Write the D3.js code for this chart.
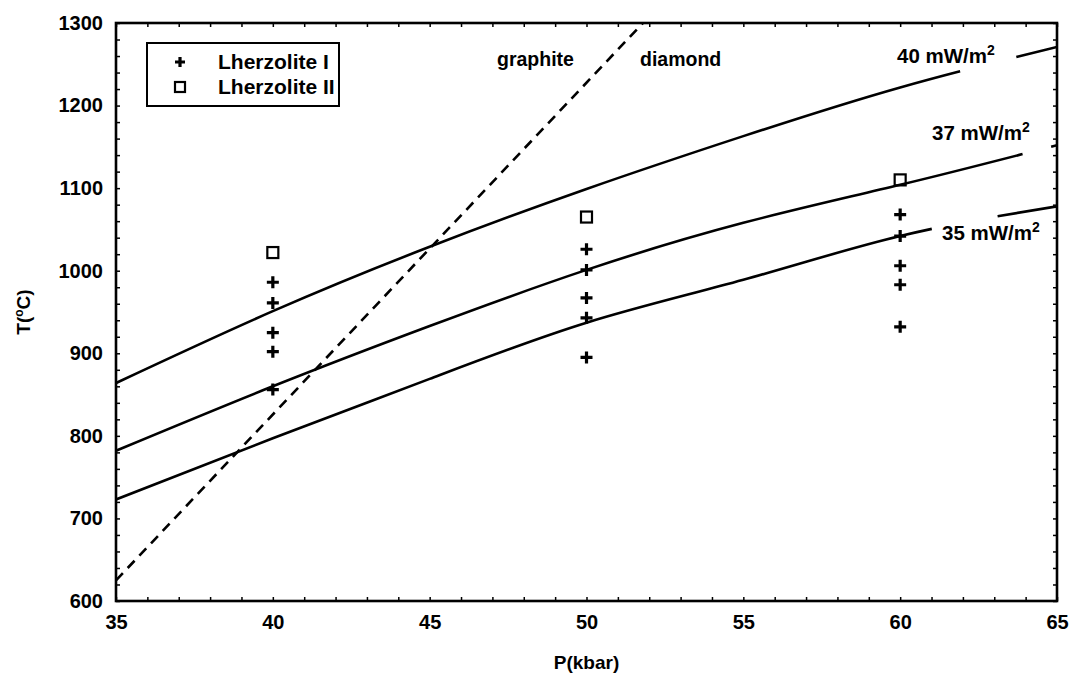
<!DOCTYPE html>
<html>
<head>
<meta charset="utf-8">
<script src="https://cdn.jsdelivr.net/npm/d3@7"></script>
<style>
  body { margin: 0; background: #fff; }
  text { font-family: "Liberation Sans", Arial, sans-serif; font-weight: bold; fill: #000; }
</style>
</head>
<body>
<div id="chart"></div>
<script>
// data
var pressures = [35, 40, 45, 50, 55, 60, 65];
var geo40 = [864, 951, 1029, 1099, 1163, 1222, 1271];
var geo37 = [782, 860, 933, 1001, 1058, 1104, 1152];
var geo35 = [723, 797, 869, 937, 989, 1042, 1078];
var geoLabels = ["40", "37", "35"];
// where each geotherm is broken for its label (kbar)
var geoGaps = [[61.9, 63.7], [63.9, 64.8], [61.0, 63.1]];

// graphite / diamond boundary
var gdP = [35, 51.8];
var gdT = [625, 1300];

var lherz1P = [40, 40, 40, 40, 40, 50, 50, 50, 50, 50, 60, 60, 60, 60, 60];
var lherz1T = [986, 961, 925, 902, 856, 1026, 1001, 967, 943, 895, 1068, 1042, 1006, 983, 932];
var lherz2P = [40, 50, 60];
var lherz2T = [1022, 1065, 1110];

var xTicks = [35, 40, 45, 50, 55, 60, 65];
var yTicks = [600, 700, 800, 900, 1000, 1100, 1200, 1300];

var margin = {top: 23, right: 17, bottom: 72, left: 116},
  width = 1074 - margin.left - margin.right,
  height = 673 - margin.top - margin.bottom;

var x = d3.scaleLinear().domain([35, 65]).range([0, width]);
var y = d3.scaleLinear().domain([600, 1300]).range([height, 0]);

var svg = d3.select("#chart").append("svg")
  .attr("width", 1074)
  .attr("height", 673)
  .append("g")
  .attr("transform", "translate(" + margin.left + "," + margin.top + ")");

// minor ticks on all four sides, pointing inward
var xMinor = d3.range(35, 65.01, 1);
var yMinor = d3.range(600, 1300.01, 20);

svg.append("g")
  .attr("transform", "translate(0," + height + ")")
  .call(d3.axisBottom(x).tickValues(xMinor).tickSize(-4).tickFormat(""))
  .call(function(g) { g.select(".domain").remove(); });
svg.append("g")
  .call(d3.axisTop(x).tickValues(xMinor).tickSize(-4).tickFormat(""))
  .call(function(g) { g.select(".domain").remove(); });
svg.append("g")
  .call(d3.axisLeft(y).tickValues(yMinor).tickSize(-4).tickFormat(""))
  .call(function(g) { g.select(".domain").remove(); });
svg.append("g")
  .attr("transform", "translate(" + width + ",0)")
  .call(d3.axisRight(y).tickValues(yMinor).tickSize(-4).tickFormat(""))
  .call(function(g) { g.select(".domain").remove(); });
svg.selectAll(".tick line").attr("stroke", "#000").attr("stroke-width", 1.5);

// labelled axes
svg.append("g")
  .attr("transform", "translate(0," + height + ")")
  .call(d3.axisBottom(x).tickValues(xTicks).tickSize(0).tickPadding(14).tickFormat(d3.format("d")))
  .call(function(g) {
    g.select(".domain").remove();
    g.selectAll("text").attr("font-size", 20);
  });
svg.append("g")
  .call(d3.axisLeft(y).tickValues(yTicks).tickSize(0).tickPadding(13).tickFormat(d3.format("d")))
  .call(function(g) {
    g.select(".domain").remove();
    g.selectAll("text").attr("font-size", 20);
  });

svg.append("text")
  .attr("x", width / 2)
  .attr("y", height + 68)
  .attr("text-anchor", "middle")
  .attr("font-size", 19)
  .text("P(kbar)");

var yl = svg.append("text")
  .attr("transform", "translate(" + (-86) + "," + (height / 2) + ") rotate(-90)")
  .attr("text-anchor", "middle")
  .attr("font-size", 19);
yl.append("tspan").text("T(");
yl.append("tspan").attr("font-size", 12).attr("dy", -7).text("o");
yl.append("tspan").attr("dy", 7).text("C)");

// clip to plot area
svg.append("clipPath").attr("id", "plot")
  .append("rect").attr("width", width).attr("height", height);

var line = d3.line()
  .x(function(d) { return x(d[0]); })
  .y(function(d) { return y(d[1]); })
  .curve(d3.curveNatural);

var geos = [geo40, geo37, geo35];
geos.forEach(function(vals, i) {
  var pts = pressures.map(function(p, j) { return [p, vals[j]]; });
  var path = svg.append("path")
    .datum(pts)
    .attr("clip-path", "url(#plot)")
    .attr("fill", "none")
    .attr("stroke", "#000")
    .attr("stroke-width", 2.6)
    .attr("d", line);

  // break the line where the label sits
  var node = path.node(), total = node.getTotalLength();
  function lenAt(px) {
    var l = 0;
    while (l < total && node.getPointAtLength(l).x < px) l += 0.5;
    return l;
  }
  var a = lenAt(x(geoGaps[i][0])), b = lenAt(x(geoGaps[i][1]));
  path.attr("stroke-dasharray", a + "," + (b - a) + "," + total);
});

// graphite-diamond dashed line
svg.append("path")
  .datum(gdP.map(function(p, j) { return [p, gdT[j]]; }))
  .attr("clip-path", "url(#plot)")
  .attr("fill", "none")
  .attr("stroke", "#000")
  .attr("stroke-width", 2.6)
  .attr("stroke-dasharray", "10,7")
  .attr("d", d3.line().x(function(d) { return x(d[0]); }).y(function(d) { return y(d[1]); }));

// geotherm labels
var labelPos = [[897, 63], [932, 140], [942, 240]];
geoLabels.forEach(function(l, i) {
  var t = svg.append("text")
    .attr("x", labelPos[i][0] - margin.left)
    .attr("y", labelPos[i][1] - margin.top)
    .attr("font-size", 20.5);
  t.append("tspan").text(l + " mW/m");
  t.append("tspan").attr("font-size", 14).attr("dy", -8).text("2");
});

svg.append("text")
  .attr("x", 497 - margin.left).attr("y", 66 - margin.top)
  .attr("font-size", 19.5).text("graphite");
svg.append("text")
  .attr("x", 640 - margin.left).attr("y", 66 - margin.top)
  .attr("font-size", 19.5).text("diamond");

// markers
function plus(sel, s) {
  sel.append("path")
    .attr("d", "M" + (-s) + ",0H" + s + "M0," + (-s) + "V" + s)
    .attr("stroke", "#000")
    .attr("stroke-width", 3.2)
    .attr("fill", "none");
}
function square(sel, s) {
  sel.append("rect")
    .attr("x", -s).attr("y", -s)
    .attr("width", 2 * s).attr("height", 2 * s)
    .attr("fill", "none")
    .attr("stroke", "#000")
    .attr("stroke-width", 2.2);
}

svg.selectAll(".p1")
  .data(lherz1P)
  .enter().append("g")
  .attr("class", "p1")
  .attr("transform", function(d, i) { return "translate(" + x(d) + "," + y(lherz1T[i]) + ")"; })
  .each(function() { plus(d3.select(this), 6); });

svg.selectAll(".p2")
  .data(lherz2P)
  .enter().append("g")
  .attr("class", "p2")
  .attr("transform", function(d, i) { return "translate(" + x(d) + "," + y(lherz2T[i]) + ")"; })
  .each(function() { square(d3.select(this), 5.5); });

// legend
var legend = svg.append("g")
  .attr("transform", "translate(" + (147 - margin.left) + "," + (43 - margin.top) + ")");
legend.append("rect")
  .attr("width", 192).attr("height", 63)
  .attr("fill", "#fff").attr("stroke", "#000").attr("stroke-width", 2);
var l1 = legend.append("g").attr("transform", "translate(33,19)");
plus(l1, 5);
var l2 = legend.append("g").attr("transform", "translate(33,44)");
square(l2, 5);
legend.append("text").attr("x", 71).attr("y", 26).attr("font-size", 21).text("Lherzolite I");
legend.append("text").attr("x", 71).attr("y", 51).attr("font-size", 21).text("Lherzolite II");

// frame
svg.append("rect")
  .attr("width", width).attr("height", height)
  .attr("fill", "none").attr("stroke", "#000").attr("stroke-width", 2.6);
</script>
</body>
</html>
